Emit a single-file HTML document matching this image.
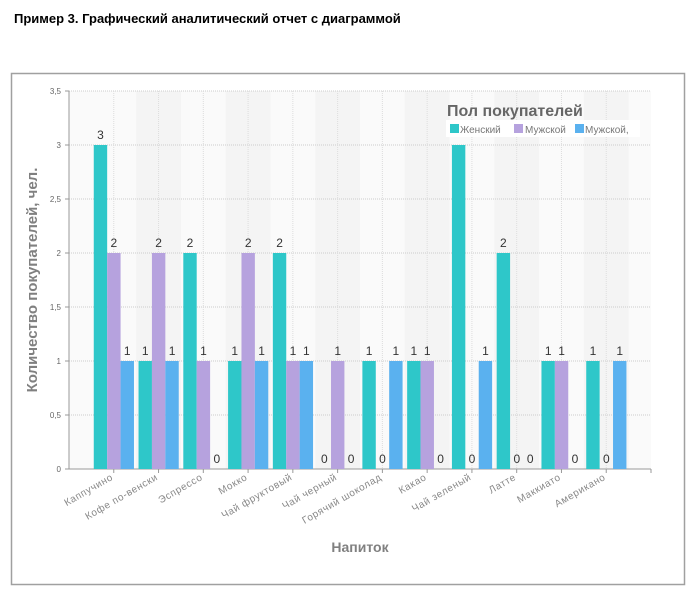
<!DOCTYPE html>
<html><head><meta charset="utf-8"><style>
body{margin:0;background:#fff;width:695px;height:597px;overflow:hidden;font-family:"Liberation Sans",sans-serif}
</style></head><body>
<svg width="695" height="597" xmlns="http://www.w3.org/2000/svg" font-family="Liberation Sans, sans-serif">
<text x="14" y="23" font-size="13" font-weight="bold" fill="#000">Пример 3. Графический аналитический отчет с диаграммой</text>
<rect x="11.5" y="73.5" width="673" height="511" fill="#fff" stroke="#a0a0a0" stroke-width="1.5"/>
<g id="bg"></g>
<g id="g"></g>
<text x="0" y="0" font-size="15" font-weight="bold" fill="#808080" transform="translate(37,280) rotate(-90)" text-anchor="middle">Количество покупателей, чел.</text>
<text x="360" y="552" font-size="14" font-weight="bold" fill="#808080" text-anchor="middle">Напиток</text>
<rect x="446" y="120" width="194" height="17" fill="#fff"/>
<text x="447" y="116" font-size="16" font-weight="bold" fill="#666">Пол покупателей</text>
<rect x="450" y="124" width="9" height="9" fill="#2ec7c9"/><text x="460" y="133" font-size="10" fill="#777">Женский</text>
<rect x="514" y="124" width="9" height="9" fill="#b6a2de"/><text x="525" y="133" font-size="10" fill="#777">Мужской</text>
<rect x="575" y="124" width="9" height="9" fill="#5ab1ef"/><text x="585" y="133" font-size="10" fill="#777">Мужской,</text>
</svg>
<script>
const ns="http://www.w3.org/2000/svg";
const bg=document.getElementById("bg"),g=document.getElementById("g");
function el(p,t,a,txt){const e=document.createElementNS(ns,t);for(const k in a)e.setAttribute(k,a[k]);if(txt!==undefined)e.textContent=txt;p.appendChild(e);return e;}
const L=69,R=651,T=91,B=469,sp=(R-L)/13,u=108;
const cats=["Каппучино","Кофе по-венски","Эспрессо","Мокко","Чай фруктовый","Чай черный","Горячий шоколад","Какао","Чай зеленый","Латте","Маккиато","Американо"];
const d=[[3,2,1],[1,2,1],[2,1,0],[1,2,1],[2,1,1],[0,1,0],[1,0,1],[1,1,0],[3,0,1],[2,0,0],[1,1,0],[1,0,1]];
const col=["#2ec7c9","#b6a2de","#5ab1ef"];
el(bg,"rect",{x:L,y:T,width:R-L,height:B-T,fill:"#fafafa"});
for(let i=0;i<13;i++){ if(i%2==1) el(bg,"rect",{x:L+sp*i+sp/2,y:T,width:sp,height:B-T,fill:"#f4f4f4"}); }
for(let k=0;k<=7;k++){const y=B-k*u/2;
 if(k>0) el(g,"line",{x1:L,x2:R,y1:y,y2:y,stroke:"#ccc","stroke-dasharray":"1,1"});
 el(g,"text",{x:L-8,y:y+3,"font-size":8,fill:"#666","text-anchor":"end"},(k/2+"").replace(".",","));
 el(g,"line",{x1:L-4,x2:L,y1:y,y2:y,stroke:"#999"});}
for(let i=0;i<12;i++){const c=L+sp*(i+1);
 el(g,"line",{x1:c,x2:c,y1:T,y2:B,stroke:"#ddd","stroke-dasharray":"1,1"});}
el(g,"line",{x1:L,x2:L,y1:T,y2:B,stroke:"#999"});
el(g,"line",{x1:L,x2:R,y1:B,y2:B,stroke:"#999"});
el(g,"line",{x1:R,x2:R,y1:B,y2:B+4,stroke:"#999"});
for(let i=0;i<12;i++){const c=L+sp*(i+1);
 el(g,"line",{x1:c,x2:c,y1:B,y2:B+4,stroke:"#999"});
 for(let j=0;j<3;j++){const v=d[i][j],x=c-20+j*13.4;
  if(v>0) el(g,"rect",{x:x,y:B-v*u,width:13.4,height:v*u,fill:col[j]});
  if(!(i==8&&j==0)) el(g,"text",{x:x+6.7,y:B-v*u-6,"font-size":12,fill:"#333","text-anchor":"middle"},v);}
 el(g,"text",{x:0,y:0,"font-size":10,"letter-spacing":"0.6",fill:"#888","text-anchor":"end",transform:`translate(${c},${B+10}) rotate(-30)`},cats[i]);}
</script>
</body></html>
